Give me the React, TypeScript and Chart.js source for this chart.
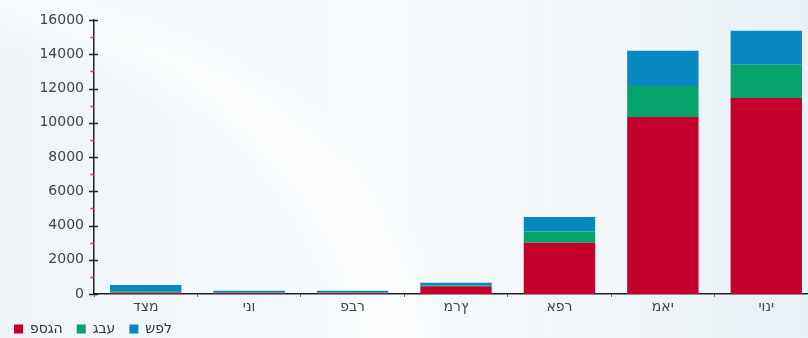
import React, { useEffect, useRef } from "react";
import { Chart, registerables } from "chart.js";

Chart.register(...registerables);

const categories = ["דצמ", "ינו", "פבר", "מרץ", "אפר", "מאי", "יוני"];
const peakValues = [80, 60, 60, 450, 2990, 10330, 11450];
const hillValues = [80, 10, 10, 50, 660, 1820, 1930];
const lowValues = [370, 120, 120, 150, 840, 2050, 1990];
const seriesNames = ["פסגה", "גבע", "שפל"];
const yMax = 16000;
const yStep = 2000;
const minorStep = 1000;

const FONT = "'DejaVu Sans', sans-serif";

// The canvas text renderer here lays glyphs out in logical order only,
// so Hebrew strings are put into visual (right-to-left) order for drawing.
const toVisual = (s: string) => Array.from(s).reverse().join("");

const bgPlugin = {
  id: "bg",
  beforeDraw(chart: any) {
    const { ctx, width, height } = chart;
    ctx.save();
    const g = ctx.createLinearGradient(0, 0, width, 0);
    g.addColorStop(0, "#eef4f8");
    g.addColorStop(0.45, "#f7fafc");
    g.addColorStop(1, "#e9f1f6");
    ctx.fillStyle = g;
    ctx.fillRect(0, 0, width, height);
    ctx.globalAlpha = 0.55;
    ctx.strokeStyle = "#ffffff";
    ctx.lineWidth = 60;
    ctx.filter = "blur(18px)";
    ctx.beginPath();
    ctx.ellipse(-150, 420, 560, 440, 0, -Math.PI / 2, 0);
    ctx.stroke();
    ctx.restore();
  },
};

const tickPlugin = {
  id: "yticks",
  afterDatasetsDraw(chart: any) {
    const { ctx } = chart;
    const y = chart.scales.y;
    const ax = y.right;
    ctx.save();
    ctx.lineWidth = 1.5;
    for (let v = 0; v <= yMax; v += minorStep) {
      const py = Math.round(y.getPixelForValue(v)) + 0.5;
      ctx.beginPath();
      if (v % yStep === 0) {
        ctx.strokeStyle = "#222";
        ctx.moveTo(ax - 5, py);
        ctx.lineTo(ax + 4, py);
      } else {
        ctx.strokeStyle = "#ff2a40";
        ctx.moveTo(ax - 3.5, py);
        ctx.lineTo(ax, py);
      }
      ctx.stroke();
    }
    ctx.restore();
  },
};

export default function App() {
  const ref = useRef<HTMLCanvasElement>(null);
  useEffect(() => {
    if (!ref.current) return;
    const chart = new Chart(ref.current, {
      type: "bar",
      data: {
        labels: categories,
        datasets: [
          { label: seriesNames[0], data: peakValues, backgroundColor: "#c4002f" },
          { label: seriesNames[1], data: hillValues, backgroundColor: "#05a26b" },
          { label: seriesNames[2], data: lowValues, backgroundColor: "#0888c1" },
        ],
      },
      options: {
        animation: false,
        responsive: false,
        devicePixelRatio: 1,
        datasets: { bar: { categoryPercentage: 1, barPercentage: 0.69 } } as any,
        layout: { padding: { left: 0, right: 2, top: 20, bottom: 0 } },
        plugins: {
          legend: {
            position: "bottom",
            align: "start",
            labels: {
              boxWidth: 9,
              boxHeight: 9,
              padding: 14,
              color: "#333",
              font: { family: FONT, size: 14 },
              generateLabels(chart: any) {
                const items = Chart.defaults.plugins.legend.labels.generateLabels(chart);
                return items.map((it: any) => ({ ...it, text: toVisual(it.text) }));
              },
            },
          },
          tooltip: { enabled: false },
        },
        scales: {
          x: {
            stacked: true,
            grid: { display: true, drawOnChartArea: false, drawTicks: true, tickLength: 3, color: "#666" },
            border: { display: true, color: "#222", width: 1.5 },
            ticks: {
              color: "#444",
              padding: 2,
              font: { family: FONT, size: 14 },
              callback: (_v: any, i: number) => toVisual(categories[i]),
            },
            afterFit(scale: any) {
              scale.height = 14;
              scale._computeLabelArea = () => undefined;
            },
          },
          y: {
            stacked: true,
            min: 0,
            max: yMax,
            grid: { display: false, drawTicks: false },
            border: { display: true, color: "#222", width: 1.5 },
            ticks: {
              stepSize: yStep,
              color: "#444",
              padding: 10,
              font: { family: FONT, size: 14 },
              callback: (v: any) => String(v),
            },
            afterFit(scale: any) {
              scale.width = 94;
            },
          },
        },
      },
      plugins: [bgPlugin, tickPlugin],
    });
    return () => chart.destroy();
  }, []);
  return (
    <div style={{ position: "fixed", left: 0, top: 0, width: 808, height: 338, overflow: "hidden" }}>
      <canvas ref={ref} width={820} height={346} style={{ display: "block" }} />
    </div>
  );
}
